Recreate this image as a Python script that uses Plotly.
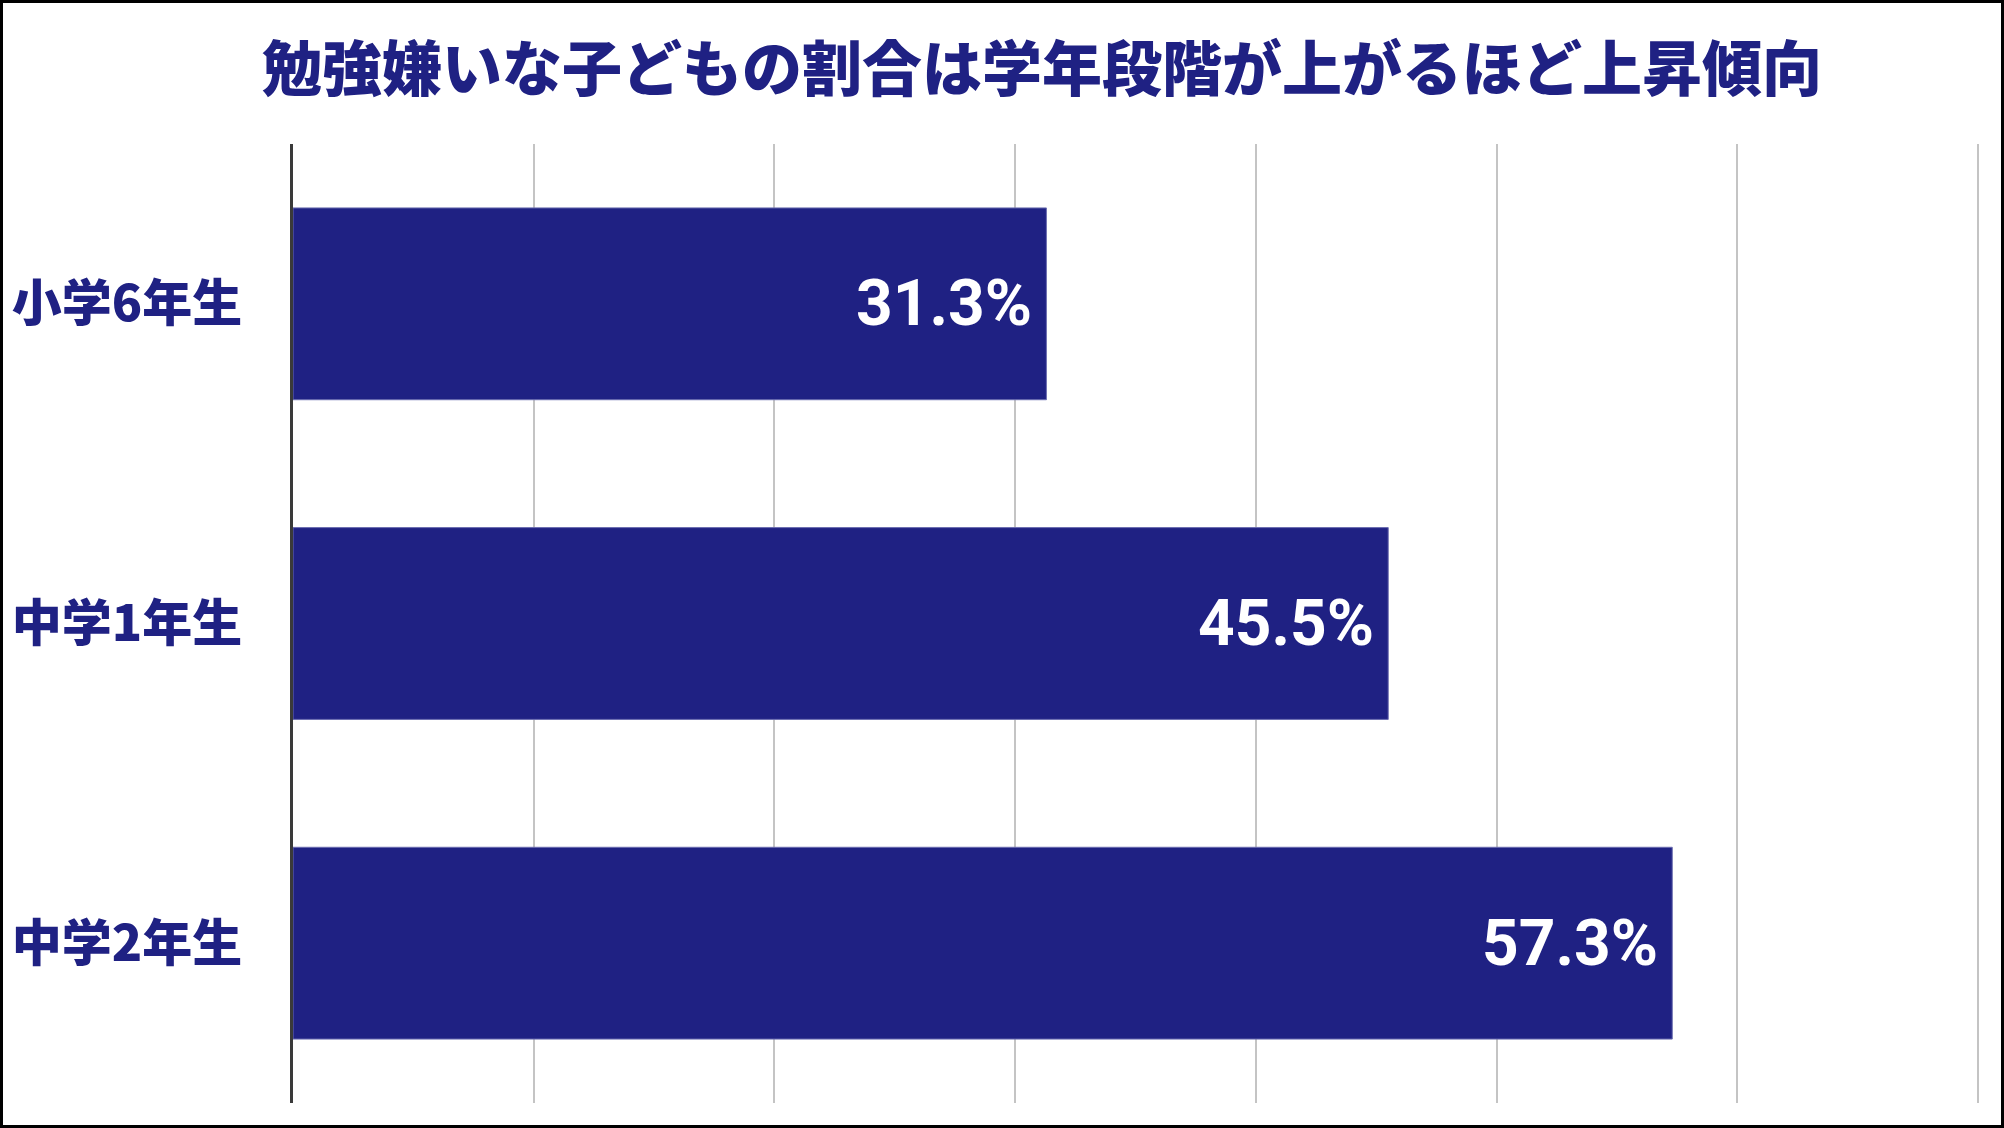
#!/usr/bin/env python3
# -*- coding: utf-8 -*-

import plotly.graph_objects as go

# --- データ ---
grades = ["小学6年生", "中学1年生", "中学2年生"]
dislike_pct = [31.3, 45.5, 57.3]
title_text = "勉強嫌いな子どもの割合は学年段階が上がるほど上昇傾向"

# --- スタイル ---
NAVY = "#1f2183"
W, H = 2004, 1128
X_MAX = 70.5
M_L, M_R, M_T, M_B = 293, 14, 144, 25
JP_FONT = "Noto Sans CJK JP"

fig = go.Figure(go.Bar(
    x=dislike_pct,
    y=grades,
    orientation="h",
    marker=dict(color=NAVY, line=dict(color="#6b6db0", width=1)),
    hoverinfo="skip",
))

# バー内の数値ラベル（右端寄せ）
for g, v in zip(grades, dislike_pct):
    fig.add_annotation(
        x=v, y=g, text=f"{v:.1f}%", showarrow=False,
        xanchor="right", yanchor="middle", xshift=-12,
        font=dict(family="Roboto", size=64, color="white", weight="bold"),
    )

# 外枠（図全体）
pw = W - M_L - M_R
ph = H - M_T - M_B
fig.add_shape(
    type="rect", xref="paper", yref="paper",
    x0=(1.5 - M_L) / pw, x1=(W - 1.5 - M_L) / pw,
    y0=(1.5 - M_B) / ph, y1=(H - 1.5 - M_B) / ph,
    line=dict(color="black", width=3),
)

fig.update_layout(
    width=W, height=H,
    margin=dict(l=M_L, r=M_R, t=M_T, b=M_B, autoexpand=False),
    paper_bgcolor="white", plot_bgcolor="white",
    bargap=0.4,
    showlegend=False,
    title=dict(
        text=title_text, x=1042 / W, xanchor="center",
        y=1 - 70 / H, yanchor="middle",
        font=dict(family=JP_FONT, size=60, color=NAVY, weight=900),
    ),
    xaxis=dict(
        range=[0, X_MAX], dtick=10, showticklabels=False,
        showgrid=True, gridcolor="#c4c4c4", gridwidth=1.5,
        zeroline=False, showline=False, fixedrange=True,
    ),
    yaxis=dict(
        autorange="reversed", showgrid=False, automargin=False,
        showline=True, linecolor="#3a3a3a", linewidth=2.5,
        ticks="", ticklabelstandoff=38,
        tickfont=dict(family=JP_FONT, size=50, color=NAVY, weight=900),
        fixedrange=True,
    ),
)

fig.write_html(
    "out.html",
    config={"displayModeBar": False},
    post_script="document.body.style.margin='0';document.body.style.overflow='hidden';",
)
